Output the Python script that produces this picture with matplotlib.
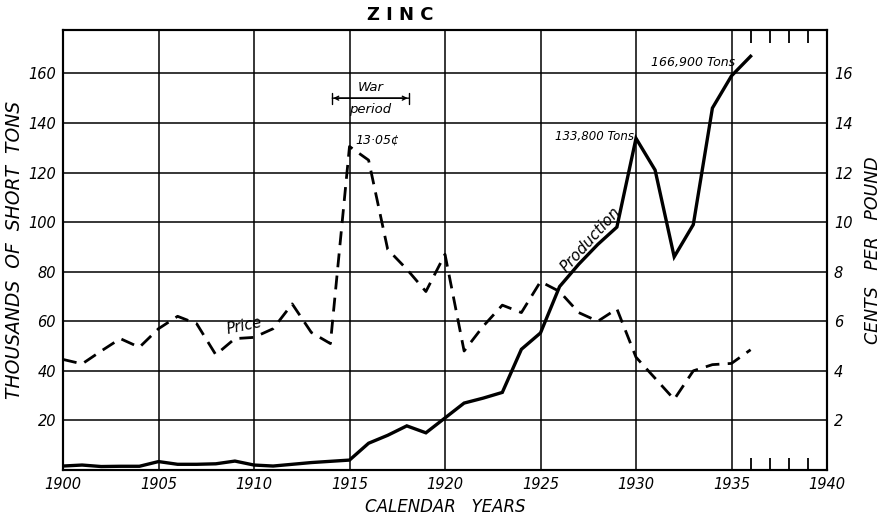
import matplotlib
matplotlib.use("Agg")
import matplotlib.pyplot as plt

years = list(range(1900, 1937))
# Production, thousands of short tons
production = [1.6, 2.0, 1.4, 1.5, 1.5, 3.4, 2.3, 2.3, 2.5, 3.6, 2.0, 1.6, 2.3, 3.0, 3.5,
              4.0, 10.8, 14.0, 17.8, 15.0, 21.0, 27.0, 29.0, 31.3, 48.7, 55.3, 74.0,
              83.0, 91.0, 98.0, 133.8, 121.0, 86.0, 99.0, 146.0, 159.0, 166.9]
# Price, cents per pound
price = [4.46, 4.28, 4.8, 5.3, 4.95, 5.7, 6.2, 5.9, 4.65, 5.3, 5.35, 5.7, 6.7, 5.55, 5.1,
         13.05, 12.5, 8.9, 8.1, 7.2, 8.7, 4.8, 5.8, 6.65, 6.35, 7.6, 7.2, 6.35, 6.0, 6.5,
         4.55, 3.7, 2.85, 4.0, 4.25, 4.3, 4.85]

x_ticks = [1900, 1905, 1910, 1915, 1920, 1925, 1930, 1935, 1940]
x_tick_labels = [str(v) for v in x_ticks]
left_ticks = [20, 40, 60, 80, 100, 120, 140, 160]
right_ticks = [2, 4, 6, 8, 10, 12, 14, 16]
top_minor_ticks = [1936, 1937, 1938, 1939]
war_period = [1914.1, 1918.1]

fig = plt.figure(figsize=(8.85, 5.19), dpi=100)
fig.patch.set_facecolor("white")
ax = fig.add_axes([63/885, 1-470/519, (827-63)/885, (470-30)/519])
ax.set_xlim(1900, 1940)
ax.set_ylim(0, 177.5)

ax2 = ax.twinx()
ax2.set_ylim(0, 17.75)

# grid
for v in x_ticks[1:-1]:
    ax.axvline(v, color="black", lw=1.1, zorder=1)
for v in left_ticks:
    ax.axhline(v, color="black", lw=1.1, zorder=1)

ax.plot(years, production, color="black", lw=2.4, solid_joinstyle="miter", zorder=3)
ax2.plot(years, price, color="black", lw=2.0, dashes=(5.0, 3.0), zorder=3)

tick_font = dict(fontsize=10.5, fontstyle="italic")
ax.set_xticks(x_ticks)
ax.set_xticklabels(x_tick_labels, **tick_font)
ax.set_yticks(left_ticks)
ax.set_yticklabels([str(v) for v in left_ticks], **tick_font)
ax2.set_yticks(right_ticks)
ax2.set_yticklabels([str(v) for v in right_ticks], **tick_font)
ax.tick_params(which="major", length=0, pad=5)
ax2.tick_params(which="major", length=0, pad=5)
ax.set_xticks(top_minor_ticks, minor=True)
ax.tick_params(which="minor", direction="in", top=True, bottom=True, length=9, width=1.3)

for a in (ax, ax2):
    for s in a.spines.values():
        s.set_linewidth(1.5)
        s.set_color("black")

ax.set_ylabel("THOUSANDS  OF  SHORT  TONS", fontsize=13.5, fontstyle="italic", labelpad=3)
ax2.set_ylabel("CENTS   PER   POUND", fontsize=12.5, fontstyle="italic", labelpad=8)
ax.set_xlabel("CALENDAR   YEARS", fontsize=12, fontstyle="italic", labelpad=4)

fig.text(0.452, 0.972, "Z I N C", fontsize=13, fontweight="bold", ha="center", va="center")

# annotations
ax.annotate("", xy=(war_period[0], 150), xytext=(war_period[1], 150),
            arrowprops=dict(arrowstyle="|-|", lw=1.0, mutation_scale=4, shrinkA=0, shrinkB=0))
ax.annotate("", xy=(war_period[0] + 0.05, 150), xytext=(war_period[1] - 0.05, 150),
            arrowprops=dict(arrowstyle="<->", lw=1.0, mutation_scale=7, shrinkA=0, shrinkB=0))
ax.text(1916.1, 151.5, "War", fontsize=9.5, fontstyle="italic", ha="center", va="bottom")
ax.text(1916.1, 148, "period", fontsize=9.5, fontstyle="italic", ha="center", va="top")
ax.text(1915.3, 133, "13·05¢", fontsize=9, fontstyle="italic", ha="left", va="center")
ax.text(1909.5, 58, "Price", fontsize=10.5, fontstyle="italic", ha="center", va="center", rotation=12)
ax.text(1927.6, 93, "Production", fontsize=11, fontstyle="italic", ha="center", va="center", rotation=48)
ax.text(1929.9, 134.5, "133,800 Tons", fontsize=8.5, fontstyle="italic", ha="right", va="center")
ax.text(1930.8, 164.5, "166,900 Tons", fontsize=9, fontstyle="italic", ha="left", va="center")

fig.savefig("out.png", dpi=100)
